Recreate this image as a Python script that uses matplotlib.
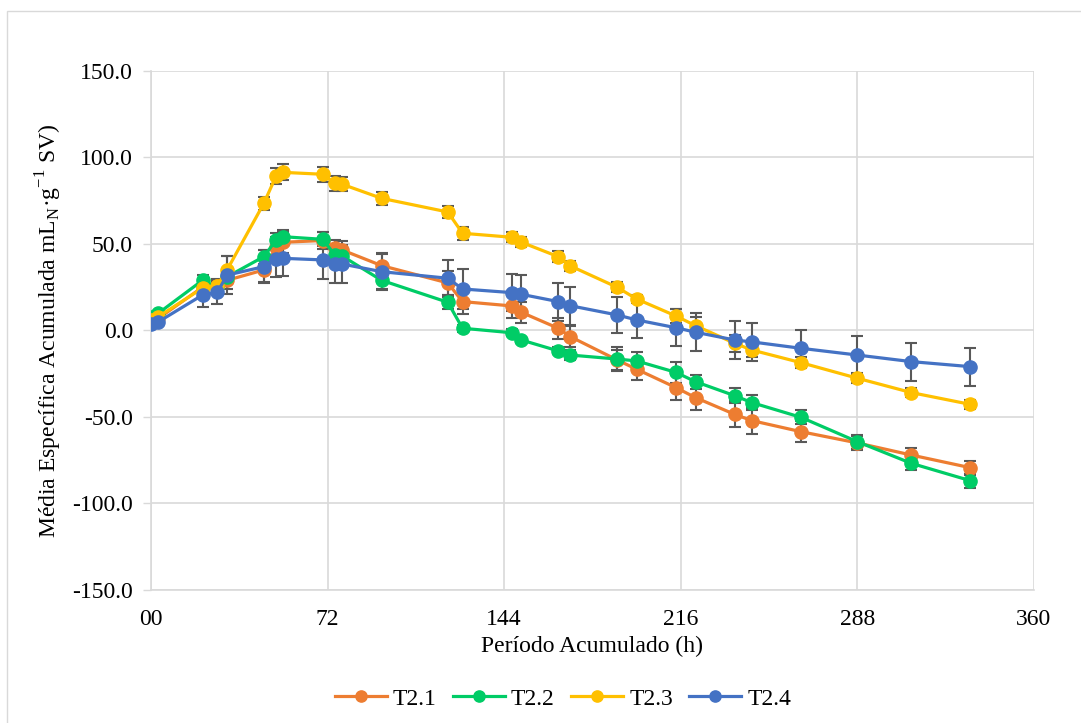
import numpy as np
import matplotlib
matplotlib.use('Agg')
from matplotlib import pyplot as plt
from matplotlib.patches import Rectangle

plt.rcParams['font.family'] = ['Liberation Serif', 'DejaVu Serif']
plt.rcParams['mathtext.fontset'] = 'custom'
plt.rcParams['mathtext.rm'] = 'Liberation Serif'

# tempo acumulado (h)
horas = [0, 3, 21, 27, 31, 46, 51, 54, 70, 75, 78, 94, 121, 127, 147, 151,
         166, 171, 190, 198, 214, 222, 238, 245, 265, 288, 310, 334]

t21 = [5, 7, 25, 26, 29, 35, 48, 51, 52, 47.5, 46.5, 37.5, 27.5, 16.7, 14.2, 10.5,
       1.3, -3.6, -17, -22.4, -33, -38.8, -48.5, -52.1, -58.5, -65, -72, -79.3]
t22 = [8, 10, 29, 25, 31, 42.7, 52.3, 54.2, 52.7, 43.6, 43, 29, 16.3, 1.3, -1.3, -5.5,
       -11.8, -14.2, -16.5, -17.6, -24.2, -29.6, -37.7, -41.7, -50.2, -64.3, -76.8, -86.8]
t23 = [6, 8, 24.5, 26, 35, 73.5, 89.3, 91.4, 90.3, 85, 84.5, 76.4, 68.5, 56.2, 53.9, 51,
       42.7, 37.3, 25, 18.2, 8.4, 2.8, -7.4, -11.3, -18.6, -27.6, -35.9, -42.7]
t24 = [4, 5, 20.5, 22, 32, 36.9, 41.3, 41.7, 40.8, 38.4, 38.4, 34, 30.2, 24, 21.9, 20.9,
       16.7, 14.3, 9, 6.1, 1.6, -1, -5.5, -6.6, -10.3, -14.2, -18, -20.9]

e21 = [1, 1, 4, 4, 5, 7, 6, 6, 5, 5, 5, 7, 7, 7, 7, 6,
       6, 6, 6, 6, 7, 7, 7.5, 7.5, 6, 4, 4, 4]
e22 = [1, 1, 3, 3, 3, 4, 4, 4, 4, 4, 4, 5, 4, 2, 2, 2,
       2, 3, 7, 5, 6, 4, 4.5, 4.5, 4, 4, 4, 4]
e23 = [1, 1, 3, 3, 8, 3.8, 4.8, 4.6, 4.4, 4.2, 4, 3.8, 3.7, 3.8, 3, 3,
       3, 3, 3, 2.5, 4, 5, 5, 4, 3, 3, 2.5, 2.5]
e24 = [1, 1, 7, 6.5, 11, 9.6, 10.2, 10.2, 11.2, 11, 11, 10.6, 10.6, 11.3, 10.8, 11,
       11, 11, 10.6, 10.6, 10.6, 11, 11, 11, 10.6, 11.2, 11, 11]

nomes = ['T2.1', 'T2.2', 'T2.3', 'T2.4']
cores = ['#ED7D31', '#00CC66', '#FFC000', '#4472C4']

fig = plt.figure(figsize=(10.81, 7.23), dpi=100)
ax = fig.add_axes([0.1397, 0.184, 0.8168, 0.7178])

for y, e, nome, cor in zip([t21, t22, t23, t24], [e21, e22, e23, e24], nomes, cores):
    ax.errorbar(horas, y, yerr=e, fmt='none', ecolor='#595959', elinewidth=1.5,
                capsize=4.5, capthick=1.5, zorder=3)
    ax.plot(horas, y, color=cor, lw=2.3, marker='o', ms=9.5, label=nome, zorder=4)

ax.set_xlim(0, 360)
ax.set_ylim(-150, 150)
ax.set_xticks([0, 72, 144, 216, 288, 360])
ax.set_xticklabels(['00', '72', '144', '216', '288', '360'])
ax.set_yticks(np.arange(-150, 151, 50))
ax.set_yticklabels(['%.1f' % v for v in np.arange(-150, 151, 50)])
ax.tick_params(labelsize=17, colors='#000000', length=0)
ax.tick_params(axis='x', pad=14)
ax.tick_params(axis='y', length=6, color='#D9D9D9', width=1, pad=7)
ax.grid(True, color='#D9D9D9', lw=1.2)
ax.set_axisbelow(True)
for s in ['top', 'right']:
    ax.spines[s].set_visible(False)
for s in ['left', 'bottom']:
    ax.spines[s].set_color('#D9D9D9')
    ax.spines[s].set_linewidth(1.2)

ax.set_xlabel('Período Acumulado (h)', fontsize=17, labelpad=4)
ax.set_ylabel(r'Média Específica Acumulada mL$_\mathregular{N}$·g$^\mathregular{-1}$ SV)',
              fontsize=17, labelpad=6)

ax.legend(loc='center', bbox_to_anchor=(0.4666, -0.21), ncol=4, frameon=False,
          fontsize=17, handlelength=2.2, columnspacing=0.7, handletextpad=0.25,
          markerscale=0.85)

fig.patches.append(Rectangle((0.0065, -0.01), 1.1, 1.0 - 11 / 723 + 0.01,
                             transform=fig.transFigure, fill=False,
                             edgecolor='#D9D9D9', lw=1))

fig.savefig('out.png', dpi=100)
